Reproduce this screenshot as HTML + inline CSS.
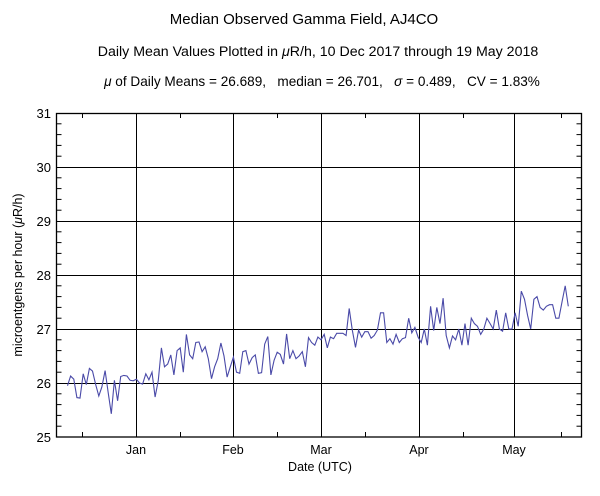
<!DOCTYPE html>
<html><head><meta charset="utf-8"><style>body{margin:0;background:#fff}svg{display:block}text{font-family:"Liberation Sans",sans-serif;fill:#000;white-space:pre}</style></head>
<body>
<svg id="s" width="600" height="496" xmlns="http://www.w3.org/2000/svg">
<text x="304" y="24" font-size="15" text-anchor="middle">Median Observed Gamma Field, AJ4CO</text>
<text x="318" y="56" font-size="14.2" text-anchor="middle">Daily Mean Values Plotted in <tspan font-style="italic">μ</tspan>R/h, 10 Dec 2017 through 19 May 2018</text>
<text x="322" y="86" font-size="13.6" text-anchor="middle"><tspan font-style="italic">μ</tspan> of Daily Means = 26.689,&#160;&#160; median = 26.701,&#160;&#160; <tspan font-style="italic">σ</tspan> = 0.489,&#160;&#160; CV = 1.83%</text>
<g font-size="13" text-anchor="end">
<text x="51" y="118">31</text><text x="51" y="172">30</text><text x="51" y="226">29</text><text x="51" y="280">28</text><text x="51" y="334">27</text><text x="51" y="388">26</text><text x="51" y="442">25</text>
</g>
<g font-size="12.5" text-anchor="middle">
<text x="136" y="454">Jan</text><text x="233" y="454">Feb</text><text x="321" y="454">Mar</text><text x="419" y="454">Apr</text><text x="514" y="454">May</text>
<text x="320" y="471">Date (UTC)</text>
</g>
<text transform="translate(22,275) rotate(-90)" font-size="12.5" text-anchor="middle">microentgens per hour (<tspan font-style="italic">μ</tspan>R/h)</text>
<g id="g" stroke="#000" stroke-width="1" fill="none"></g>
</svg>
<script>
var L=56.5,R=581.5,T=113,B=437,g=document.getElementById('g'),h='';
function ln(a,b,c,d){h+='<line x1="'+a+'" y1="'+b+'" x2="'+c+'" y2="'+d+'"/>';}
for(var v=26;v<=30;v++){var y=B-(v-25)*54+0.5;ln(L,y,R,y);}
[136.5,233.5,321.5,419.5,514.5].forEach(function(x){ln(x,T,x,B);});
for(var k=1;k<30;k++){if(k%5==0)continue;var y=B-k*10.8;ln(L,y,L+5,y);ln(R-5,y,R,y);}
[82.5,180.5,277.5,365.5,463.5,561.5].forEach(function(x){ln(x,T,x,T+5);ln(x,B-5,x,B);});
var d=[25.95,26.13,26.07,25.73,25.72,26.17,25.97,26.27,26.22,25.97,25.76,25.93,26.23,25.82,25.43,26.05,25.67,26.12,26.14,26.13,26.05,26.04,
26.07,26.0,25.98,26.17,26.06,26.2,25.74,26.05,26.65,26.3,26.35,26.52,26.15,26.6,26.65,26.2,26.9,26.52,26.45,26.75,26.76,26.58,26.67,26.45,26.08,26.3,26.45,26.74,26.5,26.11,26.3,
26.48,26.2,26.18,26.58,26.6,26.35,26.47,26.52,26.18,26.19,26.72,26.86,26.15,26.42,26.57,26.53,26.35,26.91,26.45,26.6,26.45,26.5,26.58,26.3,26.84,26.75,26.7,26.85,
26.8,26.9,26.65,26.85,26.82,26.92,26.92,26.92,26.88,27.38,26.98,26.66,26.98,26.85,26.95,26.95,26.83,26.88,26.98,27.3,27.3,26.75,26.82,26.72,26.9,26.75,26.82,26.84,27.2,26.93,27.03,
26.85,26.75,27.0,26.7,27.42,26.97,27.4,27.1,27.57,26.88,26.65,26.87,26.8,27.0,26.7,27.1,26.7,27.2,27.1,27.05,26.9,27.0,27.2,27.1,27.0,27.35,27.0,26.96,27.3,27.0,
27.0,27.3,27.05,27.7,27.55,27.25,27.0,27.55,27.6,27.4,27.35,27.42,27.45,27.45,27.2,27.2,27.5,27.8,27.42];
var p=d.map(function(v,i){return (67.5+i*3.13).toFixed(1)+','+(B-(v-25)*54).toFixed(1);}).join(' ');
h+='<polyline points="'+p+'" stroke="#4a4aa8" stroke-width="1.1"/>';
h+='<rect x="'+L+'" y="'+(T+0.5)+'" width="'+(R-L)+'" height="'+(B-T-0.5)+'" stroke-width="1.3"/>';
g.innerHTML=h;
</script>
</body></html>
